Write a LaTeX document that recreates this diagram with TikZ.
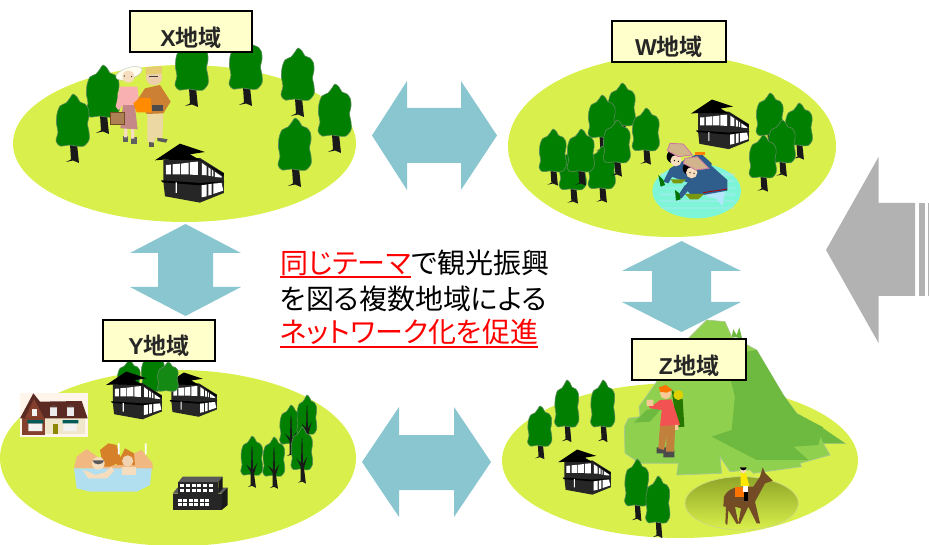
\documentclass[tikz,border=0pt]{standalone}
\usepackage{fontspec}
\setmainfont{Liberation Sans}
\newfontfamily\cjkfont[RawFeature=+palt]{Noto Sans CJK JP}
\newfontfamily\cjkbold[BoldFont={Noto Sans CJK JP Bold}]{Noto Sans CJK JP Bold}
\usetikzlibrary{calc}
\definecolor{fieldc}{HTML}{D9F04C}
\definecolor{arrowc}{HTML}{8AC6CF}
\definecolor{grayc}{HTML}{B2B2B2}
\definecolor{boxc}{HTML}{FFFFCC}
\definecolor{treec}{HTML}{007F00}
\definecolor{treeo}{HTML}{5C8A5C}
\definecolor{mountl}{HTML}{8FD14F}
\definecolor{mountd}{HTML}{6EB940}
\definecolor{skinc}{HTML}{F6DDBE}
\definecolor{farmblue}{HTML}{2F5E8C}
\definecolor{strawc}{HTML}{D2B48C}
\definecolor{horsetop}{HTML}{8FA528}
\definecolor{horsemid}{HTML}{C6DB42}
\definecolor{roofc}{HTML}{5B2A22}
\definecolor{gablec}{HTML}{84402C}
\definecolor{wallc}{HTML}{F0E6CC}
\definecolor{waterc}{HTML}{B2DFF0}
\definecolor{pondc}{HTML}{7FF5D8}
\tikzset{
  field/.style={fill=fieldc,draw=none},
  twoway/.style={fill=arrowc,draw=none},
  regionbox/.style={draw=black,line width=2pt,fill=boxc,minimum width=#1,minimum height=41pt,inner sep=0pt,text=black!85,text height=29pt,text depth=0pt,font=\fontsize{23}{23}\selectfont\bfseries},
  mainline/.style={anchor=base west,inner sep=0pt,font=\cjkfont\fontsize{28}{28}\selectfont},
  ul/.style={red,line width=1.5pt},
  crown/.style={treeo,line width=.6pt,fill=treec},
  treepic/.pic={
    \fill[black!90] (-3,50)--(4,50)--(6,69)--(0,66.5)--(-7,68)--(-2,65.5)--cycle;
    \draw[crown] plot[smooth cycle,tension=.45] coordinates{(0,0)(4,3)(7,8)(12,10)(15.5,15)(16,22)(14.5,30)(16,38)(16,46)(11,52)(3,52)(-3,51)(-13,52)(-17,47)(-15,38)(-16.5,30)(-16,20)(-13,12)(-7,9)(-3,4)};
  },
  thintree/.pic={
    \draw[crown] plot[smooth cycle,tension=.45] coordinates{(0,0)(4,3)(7,8)(12,10)(15.5,15)(16,22)(14.5,30)(16,38)(16,46)(11,52)(3,52)(-3,51)(-13,52)(-17,47)(-15,38)(-16.5,30)(-16,20)(-13,12)(-7,9)(-3,4)};
    \fill[black!90] (-.6,14)--(.6,14)--(1.5,45)--(8,36)--(3,50)--(6,69)--(0,66.5)--(-6,68)--(-2,65.5)--(-2,48)--(-9,38)--(-1.5,44)--cycle;
  },
  crownblob/.pic={
    \draw[treeo,line width=.6pt,fill=treec!92!white] plot[smooth cycle,tension=.45] coordinates{(0,0)(4,3)(7,8)(12,10)(15.5,15)(16,22)(14.5,30)(16,38)(16,46)(11,52)(3,52)(-3,51)(-13,52)(-17,47)(-15,38)(-16.5,30)(-16,20)(-13,12)(-7,9)(-3,4)};
  },
  housepic/.pic={
    \fill[black!85] (25,50)--(135,45)--(207,90)--(207,150)--(135,179)--(30,160)--(25,115)--cycle;
    \fill[black] (0,52)--(75,2)--(150,27)--(105,34)--(207,92)--(205,100)--(140,52)--(25,50)--cycle;
    \fill[black] (18,112)--(135,120)--(210,115)--(135,127)--(22,118)--cycle;
    \fill[white] (33,66)--(48,65)--(48,94)--(33,94)--cycle (53,64)--(75,62)--(75,94)--(53,94)--cycle (78,62)--(101,59)--(101,94)--(78,94)--cycle (105,58)--(129,56)--(129,96)--(105,95)--cycle;
    \fill[white] (141,60)--(155,70)--(155,97)--(141,96)--cycle (160,73)--(167,78)--(167,99)--(160,98)--cycle (171,80)--(175,84)--(175,100)--(171,100)--cycle (180,87)--(200,100)--(200,104)--(180,102)--cycle;
    \fill[white] (62,118)--(66,118)--(66,150)--(62,150)--cycle (140,127)--(155,125)--(155,160)--(140,163)--cycle (160,124)--(170,123)--(170,155)--(160,158)--cycle (175,122)--(200,120)--(205,143)--(175,153)--cycle;
  },
}
\newcommand{\Tree}[4]{\pic[xscale=#3,yscale=#4] at (#1,#2) {treepic};}
\newcommand{\Thin}[4]{\pic[xscale=#3,yscale=#4] at (#1,#2) {thintree};}
\newcommand{\House}[3]{\pic[scale=#3] at (#1,#2) {housepic};}
\begin{document}
\begin{tikzpicture}[x=1pt,y=-1pt]
\useasboundingbox (0,0) rectangle (929,545);
\clip (0,0) rectangle (929,545);

% ===== fields
\fill[field] (184.5,143.5) ellipse [x radius=171.5,y radius=78.5];
\fill[field] (672,146) ellipse [x radius=164,y radius=91];
\fill[field] (178,458) ellipse [x radius=178,y radius=88];
\fill[field] (680,460.5) ellipse [x radius=178,y radius=77.5];

% ===== mountain in Z
\begin{scope}[shift={(490,310)},scale=1/3]
  \fill[mountd] (725,80)--(730,58)--(740,75)--(748,52)--(756,85)--cycle;
  \draw[mountl!60!gray!70!white,line width=.7pt,fill=mountl] (650,30)--(705,35)--(725,80)--(800,120)--(880,255)--(920,310)--(1065,400)--(1000,400)--(1020,435)--(930,460)--(935,470)--(790,490)--(780,480)--(720,485)--(690,440)--(695,490)--(560,495)--(565,460)--(450,460)--(405,430)--(403,350)--(415,325)--(450,320)--(447,290)--(500,215)--(560,130)--(600,80)--cycle;
  \fill[mountd] (770,125)--(800,120)--(880,255)--(920,310)--(1000,352)--(985,405)--(910,410)--(955,450)--(800,450)--(665,380)--(725,360)--(735,260)--(722,210)--cycle;
  \fill[mountd] (1000,355)--(1065,400)--(1000,400)--(990,375)--cycle;
  \fill[mountd] (432,338)--(480,335)--(520,290)--(470,300)--cycle;
  % horse field
  \shade[top color=horsetop,middle color=horsemid,bottom color=fieldc] (755,580) ellipse [x radius=170,y radius=80];
  \draw[black!15!fieldc!70!white,line width=.8pt] (755,580) ellipse [x radius=170,y radius=80];
\end{scope}

% ===== Trees X
\Tree{192}{38}{1}{1}
\Tree{246}{37}{1}{1}
\Tree{298}{48}{1}{1}
\Tree{335}{84}{1}{1}
\Tree{295}{118}{1}{1}
\Tree{103}{65}{1}{1}
\Tree{73}{94}{1}{1}

% ===== couple
\begin{scope}[shift={(100,60)},scale=1/3]
  \fill[gray!75!black] (68,228) rectangle (84,246);
  \fill[gray!75!black] (92,232) rectangle (110,252);
  \fill[skinc] (72,200) rectangle (82,232) (93,205) rectangle (103,236);
  \fill[red!35!gray!70!white] (70,125)--(103,125)--(113,208)--(61,205)--cycle;
  \fill[red!30!white!95!gray] (60,80)--(112,80)--(118,130)--(105,135)--(70,135)--(55,150)--(47,140)--cycle;
  \fill[brown!70!gray,draw=brown!60!black,line width=.4pt] (32,158) rectangle (74,192);
  \fill[white!94!yellow,draw=gray!50,line width=.4pt,rotate around={18:(87,40)}] (87,40) ellipse [x radius=41,y radius=17];
  \fill[skinc] (85,50) circle [radius=18];
  \fill[black!60!gray] (73,48) circle [radius=2] (95,50) circle [radius=2];
  \fill[gray!70!black] (148,243) rectangle (162,262);
  \fill[gray!70!black] (172,232)--(203,238)--(198,248)--(172,243)--cycle;
  \fill[yellow!30!brown!45!white] (142,160)--(190,160)--(187,235)--(168,232)--(162,248)--(142,245)--cycle;
  \fill[brown!80!orange] (135,85)--(180,75)--(212,125)--(190,160)--(140,162)--(112,120)--cycle;
  \fill[orange!90!yellow] (100,130)--(120,113)--(152,115)--(155,157)--(110,157)--cycle;
  \fill[black!70] (155,135) rectangle (190,152);
  \fill[skinc!85!brown] (162,52) circle [radius=24];
  \fill[yellow!40!brown!70!white] (137,22)--(185,18)--(187,40)--(137,44)--cycle;
  \draw[gray!50!black,line width=.5pt] (148,50)--(175,50);
\end{scope}
\House{155}{143}{.333}

% ===== Trees W
\Tree{622}{83}{.82}{.82}
\Tree{602}{95}{.82}{.82}
\Tree{573}{147}{.82}{.82}
\Tree{602}{146}{.82}{.82}
\Tree{553}{129}{.82}{.82}
\Tree{617}{120}{.82}{.82}
\Tree{581}{129}{.82}{.82}
\Tree{646}{108}{.82}{.82}
\Tree{799}{103}{.82}{.82}
\Tree{770}{93}{.82}{.82}
\Tree{782}{120}{.82}{.82}
\Tree{763}{135}{.82}{.82}
\House{691}{99}{.28}

% ===== rice planters
\begin{scope}[shift={(640,130)},scale=1/3]
  \fill[pondc] (170,183) ellipse [x radius=133,y radius=82];
  \foreach \yy in {130,150,170,190,210,230}{\fill[cyan!30!white,opacity=.35] (60,\yy) rectangle (285,\yy+7);}
  % back figure
  \fill[farmblue] (90,115)--(130,92)--(180,68)--(215,100)--(212,135)--(150,160)--(95,140)--cycle;
  \fill[orange] (165,66) rectangle (195,74);
  \fill[black] (100,80) circle [radius=20];
  \fill[skinc] (108,92) circle [radius=17];
  \fill[black] (103,92) circle [radius=2] (115,94) circle [radius=2];
  \draw[violet!40!pink,line width=.8pt,fill=strawc] (90,40)--(130,42)--(157,75)--(115,80)--(82,62)--cycle;
  \fill[white!70!cyan] (205,180)--(255,185)--(247,228)--(228,205)--(200,200)--cycle;
  % front figure
  \fill[farmblue] (165,130)--(215,108)--(262,150)--(262,182)--(190,195)--(150,192)--(133,170)--cycle;
  \draw[red!70!black,line width=.8pt] (190,188)--(262,177);
  \fill[black] (148,115) circle [radius=20];
  \fill[skinc] (155,128) circle [radius=17];
  \fill[black] (150,128) circle [radius=2] (162,130) circle [radius=2];
  \draw[violet!40!pink,line width=.8pt,fill=strawc] (135,85)--(172,80)--(207,115)--(168,120)--(130,100)--cycle;
  \fill[olive!70!green] (92,148)--(138,148)--(125,160)--(100,160)--cycle;
  \fill[olive!70!green] (135,192)--(192,192)--(175,208)--(150,208)--cycle;
  \fill[farmblue] (90,115)--(105,125)--(85,160)--(70,155)--cycle (135,165)--(150,175)--(125,205)--(112,200)--cycle;
  \fill[green!45!black] (55,135)--(70,150)--(75,165)--(62,170)--cycle;
  \fill[green!45!black] (105,180)--(118,190)--(122,208)--(108,212)--cycle;
\end{scope}

% ===== Y region
\Tree{129}{360}{.7}{.7}
\Tree{153}{352}{.7}{.75}
\House{106}{371}{.27}
\House{165}{372}{.25}
\pic[xscale=.63,yscale=.56] at (168,362) {crownblob};
\Thin{291}{405}{.67}{.75}
\Thin{307}{395}{.6}{.75}
\Thin{302}{427}{.65}{.82}
\Thin{252}{436}{.66}{.75}
\Thin{274}{437}{.66}{.75}

% western house
\begin{scope}[shift={(10,385)},scale=1/3]
  \fill[orange!8!white] (30,25) rectangle (233,157);
  \fill[wallc] (105,95) rectangle (225,148);
  \fill[gablec] (35,98)--(105,98)--(105,150)--(35,150)--cycle;
  \fill[roofc] (30,100)--(70,25)--(90,50)--(215,48)--(233,100)--cycle;
  \fill[gablec] (45,100)--(72,42)--(103,100)--cycle;
  \foreach \wx in {120,170}{\fill[white!85!gray] (\wx,65) rectangle (\wx+22,92); \fill[roofc!80!gray] (\wx-2,67)--(\wx+11,58)--(\wx+24,67)--cycle;}
  \fill[white!90!gray] (55,115) rectangle (97,138) (160,115) rectangle (200,138);
  \fill[teal!70!black] (52,105)--(100,105)--(100,115)--(52,115)--cycle (158,105)--(205,105)--(205,115)--(158,115)--cycle;
  \fill[olive] (128,118) rectangle (145,148);
  \fill[white!90!gray] (66,72) rectangle (82,92);
\end{scope}

% onsen
\begin{scope}[shift={(10,385)},scale=1/3]
  \fill[brown!40!orange!55!white] (192,250)--(200,215)--(230,192)--(262,215)--(295,240)--(340,240)--(345,195)--(372,205)--(395,195)--(428,235)--(428,255)--cycle;
  \fill[brown!65!orange] (270,195)--(295,175)--(320,180)--(335,230)--(300,245)--(280,245)--cycle (320,240)--(345,190)--(372,205)--(375,240)--cycle;
  \fill[waterc] (192,250)--(425,250)--(420,300)--(380,320)--(240,320)--(200,310)--cycle;
  \fill[white] (324,175) rectangle (329,208) (405,175) rectangle (410,208);
  \fill[skinc] (240,262)--(255,270)--(285,262)--(305,245)--(312,258)--(290,280)--(235,280)--(218,255)--cycle;
  \fill[skinc] (335,245) rectangle (378,270);
  \fill[skinc] (265,235) circle [radius=19];
  \fill[gray!70!black] (248,226) arc [start angle=180,end angle=360,x radius=17,y radius=-12];
  \fill[skinc!90!brown] (353,228) circle [radius=17];
\end{scope}

% Y building
\begin{scope}[shift={(0,310)},scale=1/3]
  \fill[black!85] (518,551) rectangle (665,600);
  \fill[black!65] (518,551)--(532,533)--(683,533)--(665,551)--cycle;
  \fill[black!90] (665,551)--(683,533)--(683,585)--(665,600)--cycle;
  \fill[black!85] (535,516) rectangle (655,551);
  \fill[black!65] (535,516)--(548,500)--(668,500)--(655,516)--cycle;
  \fill[black!90] (655,516)--(668,500)--(668,535)--(655,551)--cycle;
  \foreach \wx in {0,1,2,3,4,5}{
    \fill[white] (541+\wx*17,523) rectangle (553+\wx*17,532);
    \fill[white] (541+\wx*17,536) rectangle (553+\wx*17,545);
    \fill[white] (533+\wx*16.5,566) rectangle (545+\wx*16.5,575);
    \fill[white] (533+\wx*16.5,579) rectangle (545+\wx*16.5,588);
  }
\end{scope}

% ===== Z region
\Tree{540}{406}{.73}{.77}
\Tree{567}{380}{.73}{.9}
\Tree{603}{380}{.73}{.9}
\Tree{637}{459}{.73}{.9}
\Tree{658}{476}{.73}{.9}
\House{558}{449}{.255}

% hiker
\begin{scope}[shift={(490,310)},scale=1/3]
  \fill[green!45!black!70!olive] (545,240)--(578,268)--(583,350)--(560,352)--cycle;
  \fill[yellow!70!olive] (565,255) circle [radius=15];
  \fill[black!70] (500,412) rectangle (530,430) (520,420) rectangle (553,442);
  \fill[brown!70!orange!80!gray] (510,345)--(556,345)--(552,425)--(528,425)--(530,375)--(522,420)--(505,415)--cycle;
  \fill[red!60!pink!90!gray] (510,270)--(545,268)--(570,345)--(510,348)--(515,300)--(480,295)--(472,280)--(480,275)--(490,285)--cycle;
  \fill[skinc!80!orange] (470,270) rectangle (490,288) (555,345) rectangle (565,360);
  \fill[skinc!80!orange] (527,250) circle [radius=17];
  \fill[orange!90!red] (507,232)--(527,225)--(548,240)--(530,248)--(510,245)--cycle;
\end{scope}

% horse and rider
\begin{scope}[shift={(490,310)},scale=1/3]
  \fill[brown!60!black] (702,560)..controls(715,535)and(735,528)..(790,530)--(810,500)--(818,472)--(826,490)--(848,512)--(825,520)--(795,575)--(810,640)--(800,640)--(775,590)--(750,642)--(745,640)--(753,595)--(735,590)--(745,640)--(740,642)--(715,600)--(712,645)--(706,640)--(708,590)--(700,590)--cycle;
  \fill[orange!90!red] (735,530) rectangle (765,562);
  \fill[black] (763,543) rectangle (775,572);
  \fill[white!90!pink] (760,525) rectangle (775,545);
  \fill[yellow!90!orange] (752,490)--(768,490)--(778,528)--(752,528)--cycle;
  \fill[skinc] (760,480) circle [radius=9];
  \fill[black] (750,472) arc [start angle=180,end angle=360,x radius=10,y radius=-9];
\end{scope}

% ===== two-way arrows
\fill[twoway] (372,135.5)--(407,81)--(407,108)--(461,108)--(461,81)--(497,135.5)--(461,190)--(461,163)--(407,163)--(407,190)--cycle;
\fill[twoway] (185.5,224)--(241,253)--(213,253)--(213,287)--(241,287)--(185.5,316)--(130,287)--(158,287)--(158,253)--(130,253)--cycle;
\fill[twoway] (681.5,241)--(741,271)--(711,271)--(711,302)--(741,302)--(681.5,332)--(622,302)--(652,302)--(652,271)--(622,271)--cycle;
\fill[twoway] (362,462)--(399,407)--(399,435)--(454,435)--(454,407)--(491,462)--(454,517)--(454,490)--(399,490)--(399,517)--cycle;

% ===== grey arrow
\fill[grayc] (826,250)--(878.5,157)--(878.5,203)--(915,203)--(915,296)--(878.5,296)--(878.5,343)--cycle;
\fill[grayc] (919,203) rectangle (925,296);
\fill[grayc] (928,203) rectangle (929,296);

% ===== region labels
\node[regionbox=122pt] (lx) at (191,32) {X\cjkbold 地域};
\node[regionbox=114pt] (lw) at (669,41.5) {W\cjkbold 地域};
\node[regionbox=112pt] (ly) at (159,340.5) {Y\cjkbold 地域};
\node[regionbox=114pt] (lz) at (689,359.5) {Z\cjkbold 地域};

% ===== central text
\node[mainline,text=red] (t1) at (280,274) {同じテーマ};
\node[mainline] (t1b) at (t1.base east) {で観光振興};
\node[mainline] (t2) at (280,309) {を図る複数地域による};
\node[mainline,text=red] (t3) at (280,342) {ネットワーク化を促進};
\draw[ul] ([yshift=-3pt]t1.base west) -- ([yshift=-3pt]t1.base east);
\draw[ul] ([yshift=-5pt]t3.base west) -- ([yshift=-5pt]t3.base east);
\end{tikzpicture}
\end{document}
